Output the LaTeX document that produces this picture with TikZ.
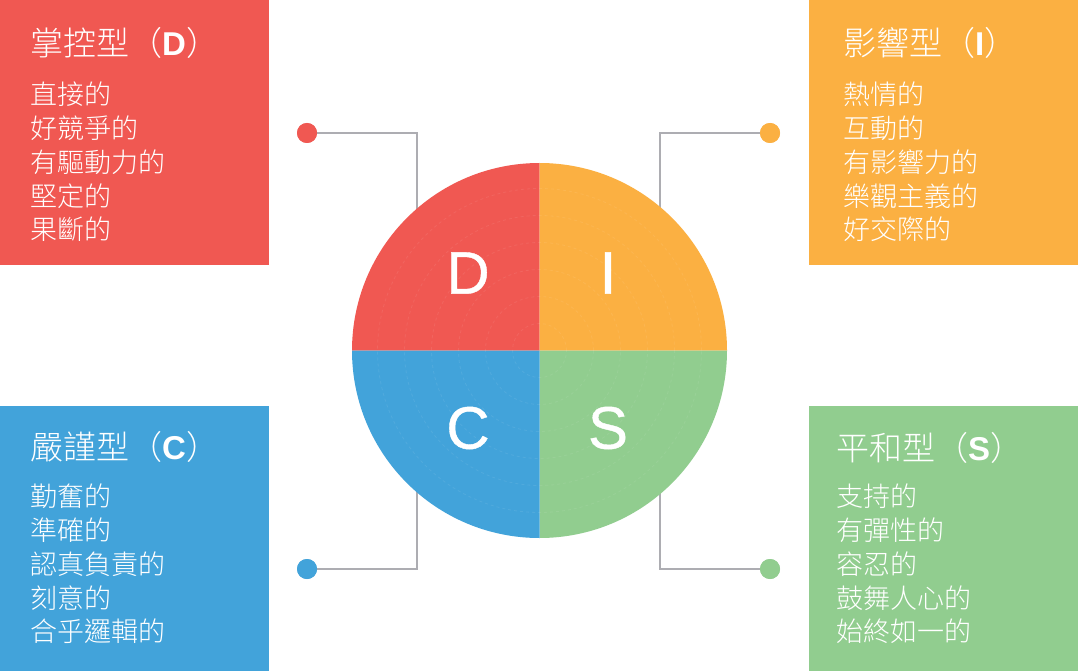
\documentclass[tikz,border=0pt]{standalone}
\usepackage{fontspec}
\newfontfamily\cjk{Noto Sans CJK TC}[UprightFont={* Light}]
\newfontfamily\lat{Liberation Sans}
\newfontfamily\latm{Liberation Sans}[FakeBold=0.7]
\definecolor{cD}{HTML}{F05852}
\definecolor{cI}{HTML}{FBB042}
\definecolor{cC}{HTML}{42A3DA}
\definecolor{cS}{HTML}{91CD8F}
\definecolor{wire}{HTML}{ADADB2}
\tikzset{
  box/.style={draw=none, minimum width=269pt, minimum height=265pt, inner sep=0pt, anchor=north west},
  ttl/.style={text=white, anchor=north west, inner sep=0pt, font=\cjk\fontsize{33}{36}\selectfont},
  items/.style={text=white, anchor=north west, inner sep=0pt, align=left, font=\cjk\fontsize{27}{33.75}\selectfont},
  dot/.style={circle, minimum size=20pt, inner sep=0pt, draw=none},
  wireline/.style={draw=wire, line width=2.6pt},
  letter/.style={text=white, inner sep=0pt, font=\latm\fontsize{60}{60}\selectfont}
}
\begin{document}
\begin{tikzpicture}[x=1pt,y=-1pt]
\useasboundingbox[fill=white] (0,0) rectangle (1078,671);
% boxes
\node[box, fill=cD] (boxD) at (0,0) {};
\node[box, fill=cI] (boxI) at (809,0) {};
\node[box, fill=cC] (boxC) at (0,406) {};
\node[box, fill=cS] (boxS) at (809,406) {};
% titles
\node[ttl] (tD) at (30,27) {掌控型（{\lat\bfseries D}）};
\node[ttl] (tI) at (843,27) {影響型（{\lat\bfseries I}）};
\node[ttl] (tC) at (30,431) {嚴謹型（{\lat\bfseries C}）};
\node[ttl] (tS) at (836,432) {平和型（{\lat\bfseries S}）};
% items
\node[items] (iD) at (30,82) {直接的\\好競爭的\\有驅動力的\\堅定的\\果斷的};
\node[items] (iI) at (843,82) {熱情的\\互動的\\有影響力的\\樂觀主義的\\好交際的};
\node[items] (iC) at (30,484) {勤奮的\\準確的\\認真負責的\\刻意的\\合乎邏輯的};
\node[items] (iS) at (836,484) {支持的\\有彈性的\\容忍的\\鼓舞人心的\\始終如一的};
% dots
\node[dot, fill=cD] (dD) at (307,133) {};
\node[dot, fill=cI] (dI) at (770,133) {};
\node[dot, fill=cC] (dC) at (307,569) {};
\node[dot, fill=cS] (dS) at (770,569) {};
\coordinate (kD) at (417,300);
\coordinate (kI) at (660,300);
\coordinate (kC) at (417,400);
\coordinate (kS) at (660,400);
\draw[wireline] (dD.center) -| (kD);
\draw[wireline] (dI.center) -| (kI);
\draw[wireline] (dC.center) -| (kC);
\draw[wireline] (dS.center) -| (kS);
% redraw dots over line ends
\node[dot, fill=cD] at (dD) {};
\node[dot, fill=cI] at (dI) {};
\node[dot, fill=cC] at (dC) {};
\node[dot, fill=cS] at (dS) {};
% pie
\node[circle, minimum size=375pt, inner sep=0pt] (pie) at (539.5,350.5) {};
\fill[cD] (pie.center) -- ++(-187.5pt,0pt) arc[start angle=180, end angle=90, radius=187.5pt] -- cycle;
\fill[cI] (pie.center) -- ++(0pt,187.5pt) arc[start angle=90, end angle=0, radius=187.5pt] -- cycle;
\fill[cS] (pie.center) -- ++(187.5pt,0pt) arc[start angle=0, end angle=-90, radius=187.5pt] -- cycle;
\fill[cC] (pie.center) -- ++(0pt,-187.5pt) arc[start angle=-90, end angle=-180, radius=187.5pt] -- cycle;
\foreach \r in {27,54,81,108,135,162}
  \draw[white, opacity=0.08, line width=0.8pt, dashed] (pie.center) circle[radius=\r pt];
\node[letter] (lD) at (468,273) {D};
\node[letter] (lI) at (608,273) {I};
\node[letter] (lC) at (468,428) {C};
\node[letter] (lS) at (608,428) {S};
\end{tikzpicture}
\end{document}
